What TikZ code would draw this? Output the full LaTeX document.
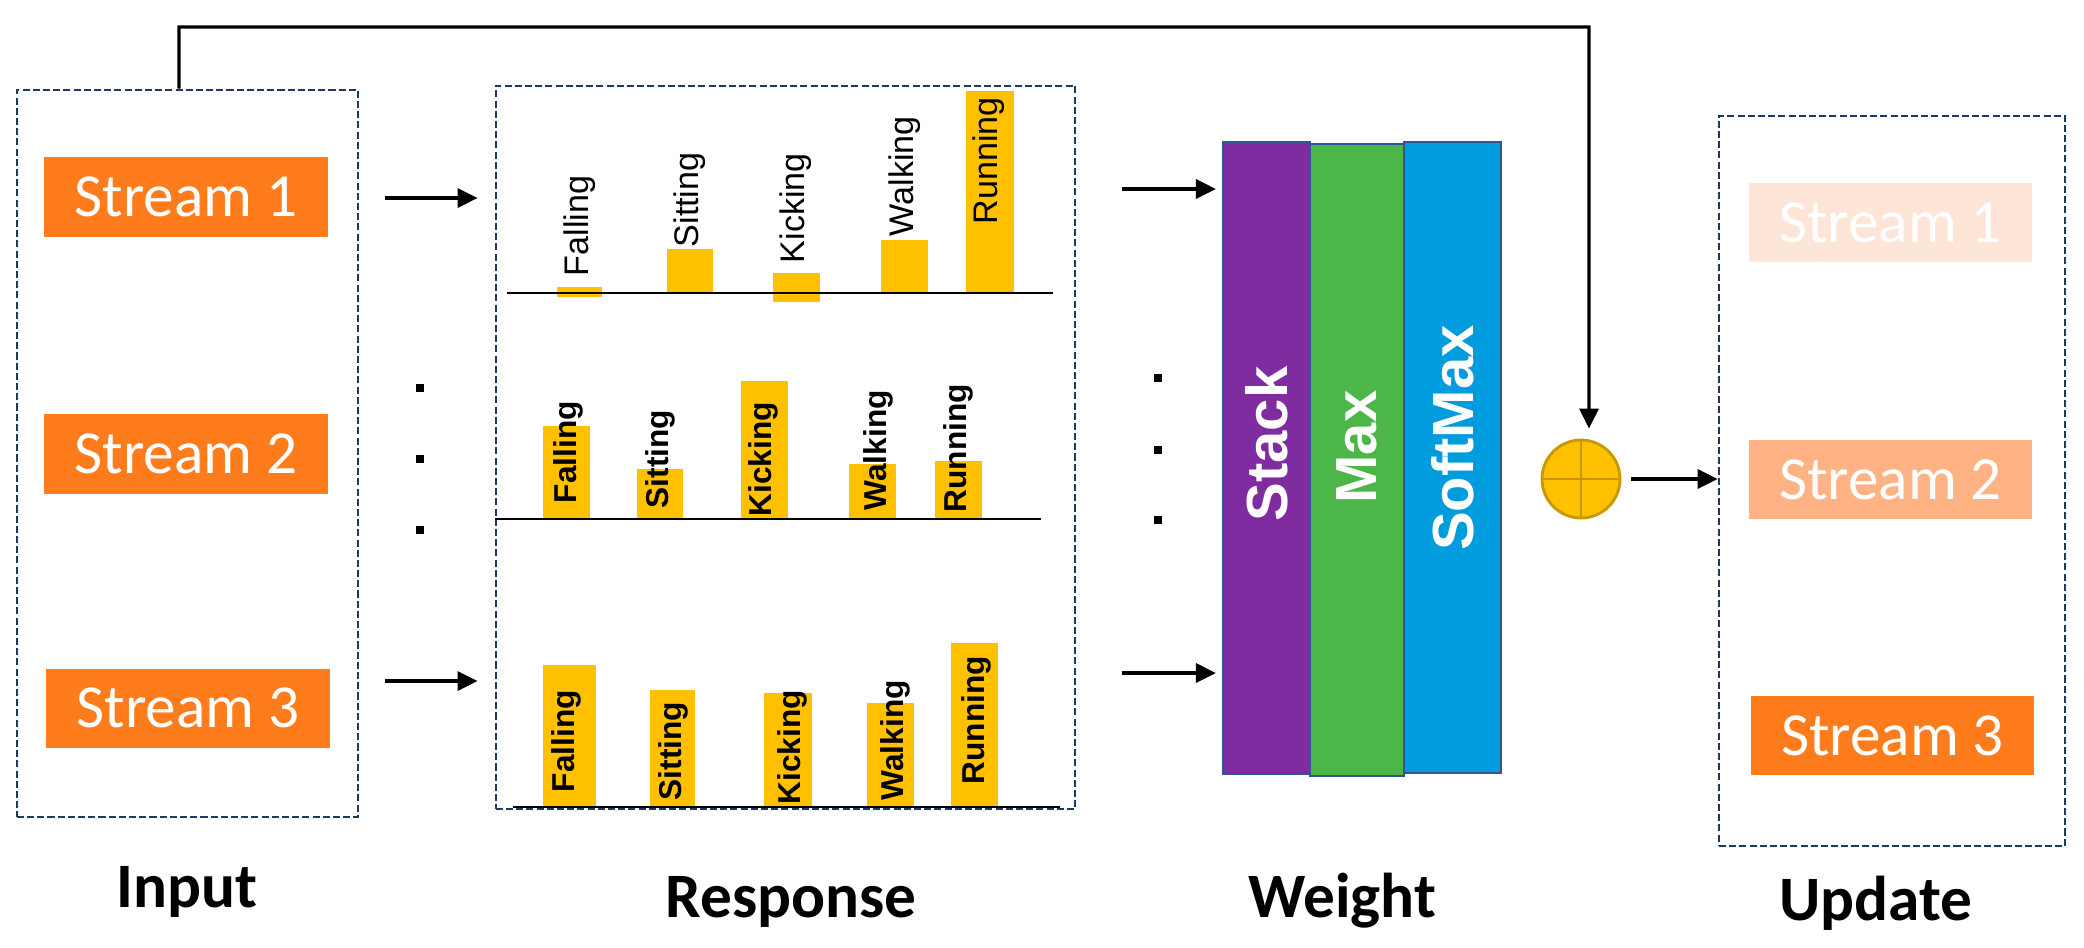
\documentclass[tikz,border=0pt]{standalone}
\usepackage{fontspec}
\setmainfont{Carlito}
\newfontfamily\arialfont{Liberation Sans}
\usetikzlibrary{arrows.meta}

\definecolor{framecol}{RGB}{31,56,100}
\definecolor{streamorange}{RGB}{255,124,28}
\definecolor{streammid}{RGB}{255,179,132}
\definecolor{streamlight}{RGB}{253,229,216}
\definecolor{barcol}{RGB}{255,192,0}
\definecolor{stackcol}{RGB}{127,44,160}
\definecolor{maxcol}{RGB}{76,182,72}
\definecolor{softcol}{RGB}{0,156,221}
\definecolor{blockedge}{RGB}{47,85,151}
\definecolor{plusedge}{RGB}{201,151,0}

\tikzset{
  groupbox/.style={draw=framecol, line width=0.7pt, dash pattern=on 2pt off 0.9pt, inner sep=0pt},
  streambox/.style={fill=streamorange, text=white, inner sep=0pt, minimum width=2.83cm, minimum height=0.79cm,
    font=\fontsize{17.4}{20}\selectfont},
  barlab/.style={rotate=90, anchor=west, inner sep=0pt, font=\arialfont\fontsize{9.7}{11}\selectfont},
  barlabb/.style={barlab, font=\arialfont\bfseries\fontsize{9}{11}\selectfont},
  block/.style={draw=blockedge, line width=0.6pt, inner sep=0pt, minimum height=6.31cm},
  blocklab/.style={rotate=90, text=white, inner sep=0pt, font=\arialfont\bfseries\fontsize{16.5}{19}\selectfont},
  caption/.style={anchor=base, inner sep=0pt, font=\bfseries\fontsize{18}{21}\selectfont},
  conn/.style={-{Triangle[length=0.2cm,width=0.19cm]}, line width=0.9pt},
  axisline/.style={line width=0.8pt}
}

\begin{document}
\begin{tikzpicture}[x=0.01cm, y=-0.01cm]
    \useasboundingbox (0,0) rectangle (2084,947);

    % Input
    \node[groupbox, minimum width=3.41cm, minimum height=7.27cm] (inbox) at (187.5,453.5) {};
    \node[streambox] (in1) at (186,197) {Stream 1};
    \node[streambox] (in2) at (186,454) {Stream 2};
    \node[streambox] (in3) at (188,708) {Stream 3};
    \node[caption] (lblin) at (187,907) {Input};

    \coordinate (a1s) at (385,198);
    \coordinate (a3s) at (385,681);
    \fill (416,384) rectangle (424,392);
    \fill (416,455) rectangle (424,463);
    \fill (416,526) rectangle (424,534);

    % Response
    \node[groupbox, minimum width=5.79cm, minimum height=7.23cm] (resp) at (785.5,447.5) {};
    \draw[conn] (a1s) -- ([xshift=-0.17cm]a1s -| resp.west);
    \draw[conn] (a3s) -- ([xshift=-0.17cm]a3s -| resp.west);

    % row 1
    \fill[barcol] (557,287) rectangle (602,297);
    \fill[barcol] (667,249) rectangle (713,293);
    \fill[barcol] (773,273) rectangle (820,302);
    \fill[barcol] (881,240) rectangle (928,293);
    \fill[barcol] (966,91) rectangle (1014,293);
    \draw[axisline] (507,293) -- (1053,293);
    \node[barlab] (r1fall) at (580,277) {Falling};
    \node[barlab] (r1sit) at (690,248) {Sitting};
    \node[barlab] (r1kick) at (796,264) {Kicking};
    \node[barlab] (r1walk) at (905,237) {Walking};
    \node[barlab] (r1run) at (989,225) {Running};

    % row 2
    \fill[barcol] (543,426) rectangle (590,519);
    \fill[barcol] (637,469) rectangle (683,519);
    \fill[barcol] (741,381) rectangle (788,519);
    \fill[barcol] (849,464) rectangle (896,519);
    \fill[barcol] (935,461) rectangle (982,519);
    \draw[axisline] (495,519) -- (1041,519);
    \node[barlabb] (r2fall) at (568,504) {Falling};
    \node[barlabb] (r2sit) at (660,509) {Sitting};
    \node[barlabb] (r2kick) at (763,517) {Kicking};
    \node[barlabb] (r2walk) at (878,511) {Walking};
    \node[barlabb] (r2run) at (958,513) {Running};

    % row 3
    \fill[barcol] (543,665) rectangle (596,807);
    \fill[barcol] (650,690) rectangle (695,807);
    \fill[barcol] (764,693) rectangle (812,807);
    \fill[barcol] (867,703) rectangle (914,807);
    \fill[barcol] (951,643) rectangle (998,807);
    \draw[axisline] (513,807) -- (1060,807);
    \node[barlabb] (r3fall) at (566,793) {Falling};
    \node[barlabb] (r3sit) at (673,801) {Sitting};
    \node[barlabb] (r3kick) at (792,805) {Kicking};
    \node[barlabb] (r3walk) at (895,801) {Walking};
    \node[barlabb] (r3run) at (976,785) {Running};

    \node[caption] (lblresp) at (791,917) {Response};

    % Weight
    \node[block, fill=stackcol, minimum width=0.87cm] (stack) at (1266.5,458) {};
    \node[block, fill=maxcol, minimum width=0.94cm] (max) at (1357,460) {};
    \node[block, fill=softcol, minimum width=0.97cm] (soft) at (1452.5,457.5) {};
    \node[blocklab] (stacktxt) at (1267,444) {Stack};
    \node[blocklab] (maxtxt) at (1357,447) {Max};
    \node[blocklab] (softtxt) at (1453,438) {SoftMax};

    \coordinate (w1s) at (1122,189);
    \coordinate (w3s) at (1122,673);
    \draw[conn] (w1s) -- ([xshift=-0.06cm]w1s -| stack.west);
    \draw[conn] (w3s) -- ([xshift=-0.06cm]w3s -| stack.west);
    \fill (1154,374) rectangle (1162,382);
    \fill (1154,446) rectangle (1162,454);
    \fill (1154,516) rectangle (1162,524);

    \node[caption] (lblw) at (1342,917) {Weight};

    % somma e aggiornamento
    \node[circle, fill=barcol, draw=plusedge, line width=0.8pt, minimum size=0.78cm, inner sep=0pt] (plus) at (1581,479) {};
    \draw[plusedge, line width=0.8pt] (plus.north) -- (plus.south) (plus.west) -- (plus.east);

    \coordinate (fbtop) at (1589,27);
    \draw[conn] ([xshift=-0.085cm]inbox.north) |- (fbtop) -- ([xshift=0.08cm,yshift=0.1cm]plus.north);

    % Update
    \node[groupbox, minimum width=3.46cm, minimum height=7.30cm] (upbox) at (1892,481) {};
    \node[streambox, fill=streamlight] (up1) at (1890.5,222.5) {Stream 1};
    \node[streambox, fill=streammid] (up2) at (1890.5,479.5) {Stream 2};
    \node[streambox] (up3) at (1892.5,735.5) {Stream 3};
    \draw[conn] ([xshift=0.1cm]plus.east) -- (plus.east -| upbox.west);

    \node[caption] (lblup) at (1876,920) {Update};
\end{tikzpicture}
\end{document}
